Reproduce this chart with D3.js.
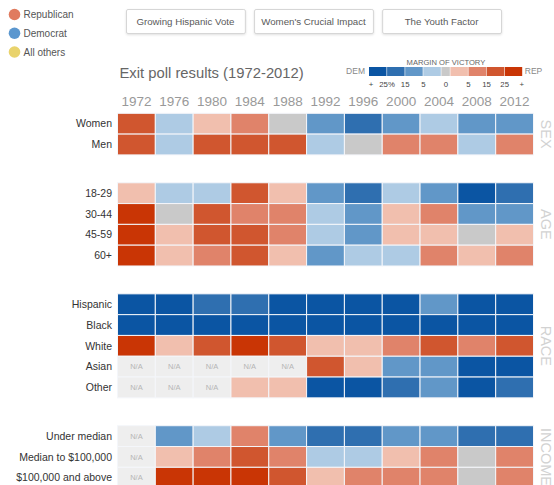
<!DOCTYPE html>
<html>
<head>
<meta charset="utf-8">
<script src="https://cdn.jsdelivr.net/npm/d3@7"></script>
<style>
  html, body { margin: 0; padding: 0; background: #fff; overflow: hidden; }
  svg { display: block; font-family: "Liberation Sans", Arial, Helvetica, sans-serif; }
</style>
</head>
<body>
<svg id="chart" width="554" height="485"></svg>
<script>
// ---------- DATA ----------
const years = [1972, 1976, 1980, 1984, 1988, 1992, 1996, 2000, 2004, 2008, 2012];
// margin class: -4 (DEM > 25%) ... 0 (tie) ... 4 (REP > 25%), null = N/A
const sexRows = ["Women", "Men"];
const sexValues = [
  [3, -1, 1, 2, 0, -2, -3, -2, -1, -2, -2],
  [3, -1, 3, 3, 3, -1, 0, 2, 2, -1, 2]
];
const ageRows = ["18-29", "30-44", "45-59", "60+"];
const ageValues = [
  [1, -1, -1, 3, 1, -2, -3, -1, -2, -4, -3],
  [4, 0, 3, 2, 2, -1, -2, 1, 2, -2, -2],
  [4, 1, 3, 3, 2, -1, -2, 1, 1, 0, 1],
  [4, 1, 2, 3, 1, -2, -1, -1, 2, 1, 2]
];
const raceRows = ["Hispanic", "Black", "White", "Asian", "Other"];
const raceValues = [
  [-4, -4, -3, -3, -4, -4, -4, -4, -2, -4, -4],
  [-4, -4, -4, -4, -4, -4, -4, -4, -4, -4, -4],
  [4, 1, 3, 4, 3, 1, 1, 2, 3, 2, 3],
  [null, null, null, null, null, 3, 1, -2, -2, -4, -4],
  [null, null, null, 1, 1, -4, -4, -3, -2, -4, -3]
];
const incomeRows = ["Under median", "Median to $100,000", "$100,000 and above"];
const incomeValues = [
  [null, -2, -1, 2, -2, -3, -3, -2, -2, -3, -3],
  [null, 1, 2, 3, 2, -1, -1, 1, 2, 0, 2],
  [null, 4, 4, 4, 3, 1, 2, 2, 2, 0, 2]
];
const groupNames = ["SEX", "AGE", "RACE", "INCOME"];
const legendItems = ["Republican", "Democrat", "All others"];
const buttonLabels = ["Growing Hispanic Vote", "Women's Crucial Impact", "The Youth Factor"];
const marginLevels = [-4, -3, -2, -1, 0, 1, 2, 3, 4];
const marginTickLabels = ["+", "25%", "15", "5", "0", "5", "15", "25", "+"];

// ---------- STYLE ----------
const levelColors = ["#0b55a3", "#2f6fb0", "#6197c8", "#aecbe4", "#c9c9c9", "#f1bfae", "#e0836a", "#d0562f", "#c93505"];
const legendColors = ["#e07b5f", "#5b97cf", "#e9d36c"];

const svg = d3.select("#chart");

const groups = [
  { name: groupNames[0], rows: sexRows, values: sexValues },
  { name: groupNames[1], rows: ageRows, values: ageValues },
  { name: groupNames[2], rows: raceRows, values: raceValues },
  { name: groupNames[3], rows: incomeRows, values: incomeValues }
];

const color = d3.scaleOrdinal().domain(marginLevels).range(levelColors);

const x = d3.scaleBand().domain(years).range([117.5, 533.5]);
const rowH = 20.8;
const gapSlots = 1.34;
const y = d3.scaleLinear().domain([0, 1]).range([113.3, 113.3 + rowH]);

let slot = 0;
const cells = [];
groups.forEach((g) => {
  g.start = slot;
  g.rows.forEach((r, ri) => {
    g.values[ri].forEach((v, ci) => {
      cells.push({ row: r, slot: slot, year: years[ci], v: v });
    });
    svg.append("text")
      .attr("x", 112)
      .attr("y", y(slot + 0.5))
      .attr("dy", "0.35em")
      .attr("text-anchor", "end")
      .attr("font-size", 10.5)
      .attr("fill", "#333")
      .text(r);
    slot += 1;
  });
  g.end = slot;
  slot += gapSlots;
});

// cells
svg.append("g").selectAll("rect")
  .data(cells)
  .join("rect")
  .attr("x", d => x(d.year))
  .attr("y", d => y(d.slot))
  .attr("width", x.bandwidth())
  .attr("height", rowH)
  .attr("fill", d => d.v === null ? "#eeeeee" : color(d.v))
  .attr("stroke", "#f4f6fa")
  .attr("stroke-width", 1);

svg.append("g").selectAll("text")
  .data(cells.filter(d => d.v === null))
  .join("text")
  .attr("x", d => x(d.year) + x.bandwidth() / 2)
  .attr("y", d => y(d.slot + 0.5))
  .attr("dy", "0.35em")
  .attr("text-anchor", "middle")
  .attr("font-size", 7.5)
  .attr("fill", "#b5b5b5")
  .text("N/A");

// year axis
const xAxis = d3.axisTop(x).tickSize(0).tickPadding(0);
const ax = svg.append("g").attr("transform", "translate(0,106)").call(xAxis);
ax.select(".domain").remove();
ax.selectAll("text").attr("font-size", 13.5).attr("fill", "#999").attr("font-family", "Liberation Sans, Arial, sans-serif");

// group labels (rotated)
groups.forEach(g => {
  const cy = (y(g.start) + y(g.end)) / 2;
  svg.append("text")
    .attr("transform", `translate(540.5,${cy}) rotate(90)`)
    .attr("text-anchor", "middle")
    .attr("font-size", 14.5)
    .attr("fill", "#d2d2d2")
    .text(g.name);
});

// title
svg.append("text")
  .attr("x", 119.5)
  .attr("y", 78)
  .attr("font-size", 14.8)
  .attr("fill", "#666")
  .text("Exit poll results (1972-2012)");

// top-left party legend
const ly = d3.scalePoint().domain(legendItems).range([14.5, 52]);
const lg = svg.append("g");
lg.selectAll("circle").data(legendItems).join("circle")
  .attr("cx", 14.5).attr("cy", d => ly(d)).attr("r", 5.8)
  .attr("fill", (d, i) => legendColors[i]);
lg.selectAll("text").data(legendItems).join("text")
  .attr("x", 23.5).attr("y", d => ly(d)).attr("dy", "0.35em")
  .attr("font-size", 10).attr("fill", "#555")
  .text(d => d);

// buttons
const bx = d3.scaleBand().domain(buttonLabels).range([126, 501]).paddingInner(0.072);
const bg = svg.append("g");
bg.selectAll("rect").data(buttonLabels).join("rect")
  .attr("x", d => bx(d) + 0.5).attr("y", 9.5)
  .attr("width", bx.bandwidth()).attr("height", 24)
  .attr("rx", 1.5)
  .attr("fill", "#fff")
  .attr("stroke", "#d6d6d6")
  .style("filter", "drop-shadow(0px 1px 1px rgba(0,0,0,0.12))");
bg.selectAll("text").data(buttonLabels).join("text")
  .attr("x", d => bx(d) + bx.bandwidth() / 2).attr("y", 21.5).attr("dy", "0.35em")
  .attr("text-anchor", "middle").attr("font-size", 9.7).attr("fill", "#5a5a5a")
  .text(d => d);

// margin-of-victory legend
const boxW = d3.scaleOrdinal().domain(marginLevels).range(marginLevels.map(v => v === 0 ? 9 : 18.1));
let acc = 369;
const boxes = marginLevels.map(v => { const b = { v, x0: acc, w: boxW(v) }; acc += boxW(v); return b; });
const mg = svg.append("g");
mg.selectAll("rect").data(boxes).join("rect")
  .attr("x", d => d.x0).attr("y", 67).attr("width", d => d.w - 0.6).attr("height", 9)
  .attr("fill", d => color(d.v));
mg.append("text").attr("x", (369 + acc) / 2).attr("y", 62).attr("dy", "0.35em").attr("text-anchor", "middle")
  .attr("font-size", 7.6).attr("fill", "#666").text("MARGIN OF VICTORY");
mg.append("text").attr("x", 365).attr("y", 71.5).attr("dy", "0.35em").attr("text-anchor", "end")
  .attr("font-size", 8.5).attr("fill", "#888").text("DEM");
mg.append("text").attr("x", acc + 2).attr("y", 71.5).attr("dy", "0.35em").attr("text-anchor", "start")
  .attr("font-size", 8.5).attr("fill", "#888").text("REP");
// tick positions: outer ends, box boundaries, and centre of the tie box
const tickX = (i) => {
  if (i === 0) return boxes[0].x0 + 2;
  if (i === 8) return acc - 1;
  if (i === 4) return boxes[4].x0 + boxes[4].w / 2;
  if (i < 4) return boxes[i].x0;
  return boxes[i + 1].x0;
};
mg.selectAll("text.tick").data(marginTickLabels).join("text")
  .attr("class", "tick")
  .attr("x", (d, i) => tickX(i))
  .attr("y", 84.5).attr("dy", "0.35em").attr("text-anchor", "middle")
  .attr("font-size", 7.8).attr("fill", "#444")
  .text(d => d);
</script>
</body>
</html>
